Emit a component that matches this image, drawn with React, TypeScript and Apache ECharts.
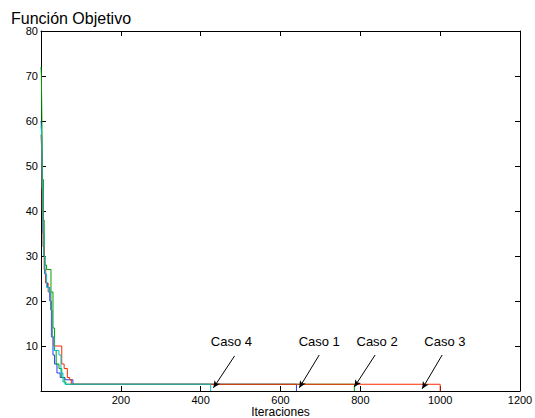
import { useEffect, useRef } from "react";
import * as echarts from "echarts";

// Iterations / objective values (staircase) for each case
const caso1X = [0, 1, 2, 3, 5, 7, 9, 12, 16, 22, 26, 30, 34, 40, 48, 60, 80, 640, 640];
const caso1Y = [60, 59, 52, 45, 35, 30, 26, 24, 23, 20, 12, 8, 6, 4, 3, 2.5, 1.5, 1.5, 0];

const caso2X = [0, 1, 2, 3, 4, 6, 8, 10, 14, 25, 30, 34, 38, 45, 52, 58, 62, 785, 785];
const caso2Y = [72, 70, 62, 54, 47, 38, 30, 28, 27, 22, 14, 9, 6, 5, 3, 2, 1.5, 1.5, 0];

const caso3X = [0, 1, 2, 3, 5, 8, 12, 18, 24, 28, 32, 52, 58, 66, 72, 76, 1000, 1000];
const caso3Y = [57, 55, 52, 40, 32, 27, 24, 22, 18, 12, 10, 6, 5, 3, 2.5, 1.5, 1.5, 0];

const caso4X = [0, 1, 2, 3, 5, 7, 10, 14, 20, 25, 28, 33, 45, 50, 55, 60, 425, 425];
const caso4Y = [59, 58, 56, 45, 36, 30, 26, 23, 22, 18, 12, 9, 8, 4, 2, 1.5, 1.5, 0];

const annotationLabels = ["Caso 4", "Caso 1", "Caso 2", "Caso 3"];
const annotationTextAt = [[477, 11.1], [697, 11.1], [842, 11.1], [1012, 11.1]];
const arrowFrom = [[485, 7.8], [697, 8.0], [837, 8.0], [1005, 8.0]];
const arrowTo = [[432, 0.7], [647, 0.7], [785, 0.9], [955, 0.5]];

const xMin = 0, xMax = 1200, xStep = 200;
const yMin = 0, yMax = 80, yStep = 10;

const FONT = "'Liberation Sans', Arial, Helvetica, sans-serif";

function pairs(xs: number[], ys: number[]) {
  return xs.map((x, i) => [x, ys[i]]);
}

export default function App() {
  const ref = useRef<HTMLDivElement>(null);
  useEffect(() => {
    if (!ref.current) return;
    const chart = echarts.init(ref.current, undefined, { renderer: "svg" });
    const axisLine = { show: true, onZero: false, lineStyle: { color: "#000", width: 1 } };
    const tick = { show: true, inside: true, length: 5, lineStyle: { color: "#000" } };
    const mkSeries = (name: string, xs: number[], ys: number[], color: string, extra: any = {}) => ({
      name,
      type: "line",
      step: "end",
      data: pairs(xs, ys),
      showSymbol: false,
      symbol: "none",
      lineStyle: { color, width: 1 },
      itemStyle: { color },
      xAxisIndex: 0,
      yAxisIndex: 0,
      z: 2,
      ...extra,
    });
    chart.setOption({
      animation: false,
      textStyle: { fontFamily: FONT },
      title: {
        text: "Función Objetivo",
        left: 6,
        top: 5,
        textStyle: { fontSize: 16, fontWeight: "normal", color: "#000", fontFamily: FONT },
      },
      grid: { left: 41, right: 15, top: 31, bottom: 27, containLabel: false, outerBoundsMode: "none" },
      xAxis: [
        {
          type: "value",
          min: xMin,
          max: xMax,
          interval: xStep,
          axisLine,
          axisTick: tick,
          splitLine: { show: false },
          axisLabel: {
            showMinLabel: false,
            color: "#000",
            fontSize: 11,
            margin: 3,
            fontFamily: FONT,
            formatter: (v: number) => String(v),
          },
          name: "Iteraciones",
          nameLocation: "middle",
          nameGap: 15,
          nameMoveOverlap: false,
          nameTextStyle: { color: "#000", fontSize: 12, fontFamily: FONT },
        },
        {
          type: "value",
          position: "top",
          min: xMin,
          max: xMax,
          interval: xStep,
          axisLine,
          axisTick: tick,
          splitLine: { show: false },
          axisLabel: { show: false },
        },
      ],
      yAxis: [
        {
          type: "value",
          min: yMin,
          max: yMax,
          interval: yStep,
          axisLine,
          axisTick: tick,
          splitLine: { show: false },
          axisLabel: { showMinLabel: false, color: "#000", fontSize: 11, margin: 3, fontFamily: FONT },
        },
        {
          type: "value",
          position: "right",
          min: yMin,
          max: yMax,
          interval: yStep,
          axisLine,
          axisTick: tick,
          splitLine: { show: false },
          axisLabel: { show: false },
        },
      ],
      series: [
        mkSeries("Caso 1", caso1X, caso1Y, "#1e3cff"),
        mkSeries("Caso 2", caso2X, caso2Y, "#00a000"),
        mkSeries("Caso 3", caso3X, caso3Y, "#ff2a00"),
        mkSeries("Caso 4", caso4X, caso4Y, "#00c4c4", {
          markLine: {
            silent: true,
            symbol: ["none", "arrow"],
            symbolSize: [5, 7],
            label: { show: false },
            lineStyle: { color: "#000", width: 1, type: "solid" },
            data: arrowFrom.map((f, i) => [
              { coord: f, symbol: "none" },
              { coord: arrowTo[i], symbol: "arrow" },
            ]),
          },
          markPoint: {
            silent: true,
            symbol: "circle",
            symbolSize: 0,
            itemStyle: { color: "transparent" },
            label: {
              show: true,
              position: "inside",
              color: "#000",
              fontSize: 13,
              fontFamily: FONT,
              formatter: (p: any) => p.name,
            },
            data: annotationLabels.map((n, i) => ({ name: n, coord: annotationTextAt[i] })),
          },
        }),
      ],
    });
    return () => chart.dispose();
  }, []);
  return (
    <div
      ref={ref}
      style={{ position: "fixed", left: 0, top: 0, width: 535, height: 418, background: "#fff" }}
    />
  );
}
